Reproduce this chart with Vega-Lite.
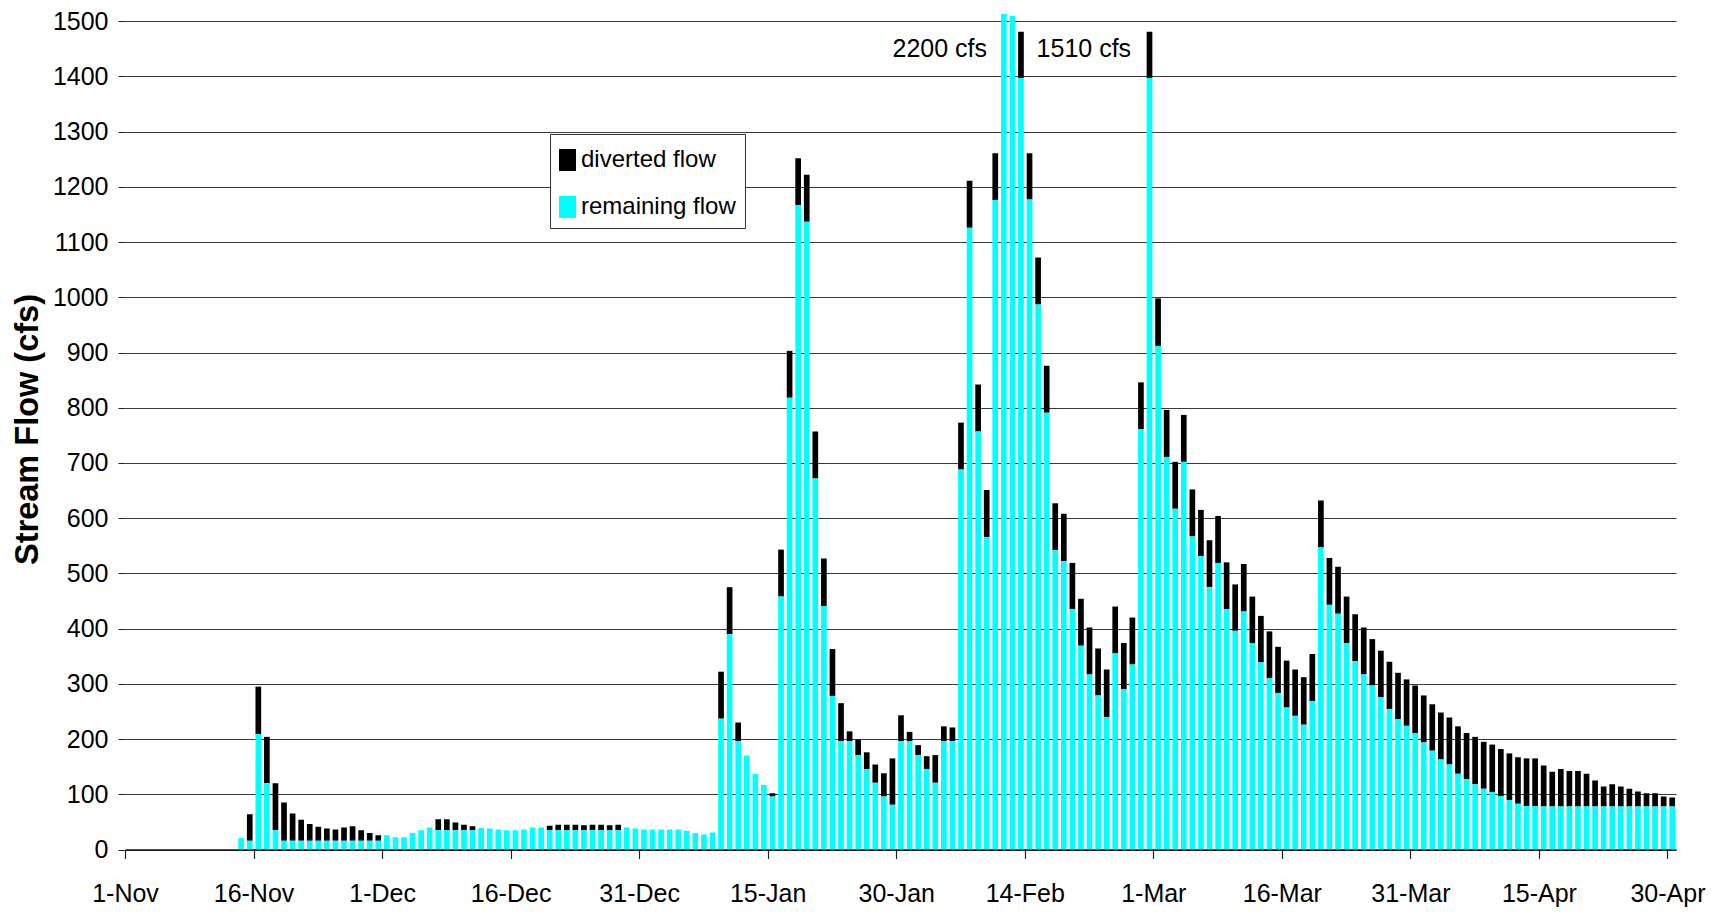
{
  "$schema": "https://vega.github.io/schema/vega-lite/v6.json",
  "width": 1551,
  "height": 835.5,
  "autosize": {"type": "none"},
  "padding": {"left": 125, "top": 14, "right": 57, "bottom": 67.5},
  "background": "white",
  "config": {
    "view": {"stroke": null},
    "font": "Liberation Sans",
    "axis": {"labelFont": "Liberation Sans", "labelColor": "#000", "tickColor": "#222", "titleColor": "#000"}
  },
  "datasets": {
    "flows": [
      {"date": "2002-11-14", "remaining": 21, "diverted": 0},
      {"date": "2002-11-15", "remaining": 16, "diverted": 48},
      {"date": "2002-11-16", "remaining": 209, "diverted": 86},
      {"date": "2002-11-17", "remaining": 120, "diverted": 84},
      {"date": "2002-11-18", "remaining": 35, "diverted": 85},
      {"date": "2002-11-19", "remaining": 16, "diverted": 69},
      {"date": "2002-11-20", "remaining": 16, "diverted": 49},
      {"date": "2002-11-21", "remaining": 16, "diverted": 38},
      {"date": "2002-11-22", "remaining": 16, "diverted": 30},
      {"date": "2002-11-23", "remaining": 16, "diverted": 25},
      {"date": "2002-11-24", "remaining": 16, "diverted": 22},
      {"date": "2002-11-25", "remaining": 16, "diverted": 20},
      {"date": "2002-11-26", "remaining": 16, "diverted": 24},
      {"date": "2002-11-27", "remaining": 16, "diverted": 26},
      {"date": "2002-11-28", "remaining": 16, "diverted": 19},
      {"date": "2002-11-29", "remaining": 16, "diverted": 14},
      {"date": "2002-11-30", "remaining": 16, "diverted": 10},
      {"date": "2002-12-01", "remaining": 26, "diverted": 0},
      {"date": "2002-12-02", "remaining": 22, "diverted": 0},
      {"date": "2002-12-03", "remaining": 22, "diverted": 0},
      {"date": "2002-12-04", "remaining": 30, "diverted": 0},
      {"date": "2002-12-05", "remaining": 35, "diverted": 0},
      {"date": "2002-12-06", "remaining": 40, "diverted": 0},
      {"date": "2002-12-07", "remaining": 35, "diverted": 20},
      {"date": "2002-12-08", "remaining": 35, "diverted": 20},
      {"date": "2002-12-09", "remaining": 35, "diverted": 14},
      {"date": "2002-12-10", "remaining": 35, "diverted": 10},
      {"date": "2002-12-11", "remaining": 35, "diverted": 7},
      {"date": "2002-12-12", "remaining": 39, "diverted": 0},
      {"date": "2002-12-13", "remaining": 38, "diverted": 0},
      {"date": "2002-12-14", "remaining": 36, "diverted": 0},
      {"date": "2002-12-15", "remaining": 35, "diverted": 0},
      {"date": "2002-12-16", "remaining": 35, "diverted": 0},
      {"date": "2002-12-17", "remaining": 36, "diverted": 0},
      {"date": "2002-12-18", "remaining": 40, "diverted": 0},
      {"date": "2002-12-19", "remaining": 40, "diverted": 0},
      {"date": "2002-12-20", "remaining": 35, "diverted": 8},
      {"date": "2002-12-21", "remaining": 35, "diverted": 10},
      {"date": "2002-12-22", "remaining": 35, "diverted": 10},
      {"date": "2002-12-23", "remaining": 35, "diverted": 10},
      {"date": "2002-12-24", "remaining": 35, "diverted": 9},
      {"date": "2002-12-25", "remaining": 35, "diverted": 10},
      {"date": "2002-12-26", "remaining": 35, "diverted": 10},
      {"date": "2002-12-27", "remaining": 35, "diverted": 9},
      {"date": "2002-12-28", "remaining": 35, "diverted": 10},
      {"date": "2002-12-29", "remaining": 40, "diverted": 0},
      {"date": "2002-12-30", "remaining": 38, "diverted": 0},
      {"date": "2002-12-31", "remaining": 36, "diverted": 0},
      {"date": "2003-01-01", "remaining": 36, "diverted": 0},
      {"date": "2003-01-02", "remaining": 36, "diverted": 0},
      {"date": "2003-01-03", "remaining": 36, "diverted": 0},
      {"date": "2003-01-04", "remaining": 36, "diverted": 0},
      {"date": "2003-01-05", "remaining": 34, "diverted": 0},
      {"date": "2003-01-06", "remaining": 30, "diverted": 0},
      {"date": "2003-01-07", "remaining": 27, "diverted": 0},
      {"date": "2003-01-08", "remaining": 31, "diverted": 0},
      {"date": "2003-01-09", "remaining": 237, "diverted": 85},
      {"date": "2003-01-10", "remaining": 390, "diverted": 85},
      {"date": "2003-01-11", "remaining": 196, "diverted": 34},
      {"date": "2003-01-12", "remaining": 170, "diverted": 0},
      {"date": "2003-01-13", "remaining": 137, "diverted": 0},
      {"date": "2003-01-14", "remaining": 117, "diverted": 0},
      {"date": "2003-01-15", "remaining": 96, "diverted": 6},
      {"date": "2003-01-16", "remaining": 458, "diverted": 85},
      {"date": "2003-01-17", "remaining": 818, "diverted": 85},
      {"date": "2003-01-18", "remaining": 1167, "diverted": 85},
      {"date": "2003-01-19", "remaining": 1137, "diverted": 85},
      {"date": "2003-01-20", "remaining": 672, "diverted": 85},
      {"date": "2003-01-21", "remaining": 441, "diverted": 86},
      {"date": "2003-01-22", "remaining": 278, "diverted": 85},
      {"date": "2003-01-23", "remaining": 196, "diverted": 69},
      {"date": "2003-01-24", "remaining": 196, "diverted": 18},
      {"date": "2003-01-25", "remaining": 171, "diverted": 28},
      {"date": "2003-01-26", "remaining": 146, "diverted": 30},
      {"date": "2003-01-27", "remaining": 121, "diverted": 33},
      {"date": "2003-01-28", "remaining": 96, "diverted": 42},
      {"date": "2003-01-29", "remaining": 81, "diverted": 84},
      {"date": "2003-01-30", "remaining": 196, "diverted": 47},
      {"date": "2003-01-31", "remaining": 196, "diverted": 17},
      {"date": "2003-02-01", "remaining": 171, "diverted": 18},
      {"date": "2003-02-02", "remaining": 146, "diverted": 23},
      {"date": "2003-02-03", "remaining": 121, "diverted": 50},
      {"date": "2003-02-04", "remaining": 196, "diverted": 27},
      {"date": "2003-02-05", "remaining": 196, "diverted": 25},
      {"date": "2003-02-06", "remaining": 688, "diverted": 85},
      {"date": "2003-02-07", "remaining": 1126, "diverted": 85},
      {"date": "2003-02-08", "remaining": 757, "diverted": 85},
      {"date": "2003-02-09", "remaining": 566, "diverted": 85},
      {"date": "2003-02-10", "remaining": 1176, "diverted": 85},
      {"date": "2003-02-11", "remaining": 2115, "diverted": 85},
      {"date": "2003-02-12", "remaining": 1510, "diverted": 0},
      {"date": "2003-02-13", "remaining": 1397, "diverted": 84},
      {"date": "2003-02-14", "remaining": 1177, "diverted": 84},
      {"date": "2003-02-15", "remaining": 987, "diverted": 85},
      {"date": "2003-02-16", "remaining": 791, "diverted": 85},
      {"date": "2003-02-17", "remaining": 542, "diverted": 85},
      {"date": "2003-02-18", "remaining": 522, "diverted": 86},
      {"date": "2003-02-19", "remaining": 435, "diverted": 84},
      {"date": "2003-02-20", "remaining": 369, "diverted": 85},
      {"date": "2003-02-21", "remaining": 317, "diverted": 85},
      {"date": "2003-02-22", "remaining": 279, "diverted": 85},
      {"date": "2003-02-23", "remaining": 240, "diverted": 86},
      {"date": "2003-02-24", "remaining": 355, "diverted": 85},
      {"date": "2003-02-25", "remaining": 290, "diverted": 84},
      {"date": "2003-02-26", "remaining": 335, "diverted": 85},
      {"date": "2003-02-27", "remaining": 761, "diverted": 85},
      {"date": "2003-02-28", "remaining": 1397, "diverted": 84},
      {"date": "2003-03-01", "remaining": 912, "diverted": 86},
      {"date": "2003-03-02", "remaining": 711, "diverted": 85},
      {"date": "2003-03-03", "remaining": 617, "diverted": 85},
      {"date": "2003-03-04", "remaining": 702, "diverted": 85},
      {"date": "2003-03-05", "remaining": 567, "diverted": 85},
      {"date": "2003-03-06", "remaining": 531, "diverted": 84},
      {"date": "2003-03-07", "remaining": 475, "diverted": 85},
      {"date": "2003-03-08", "remaining": 519, "diverted": 85},
      {"date": "2003-03-09", "remaining": 435, "diverted": 85},
      {"date": "2003-03-10", "remaining": 396, "diverted": 84},
      {"date": "2003-03-11", "remaining": 431, "diverted": 86},
      {"date": "2003-03-12", "remaining": 374, "diverted": 84},
      {"date": "2003-03-13", "remaining": 339, "diverted": 84},
      {"date": "2003-03-14", "remaining": 310, "diverted": 85},
      {"date": "2003-03-15", "remaining": 283, "diverted": 84},
      {"date": "2003-03-16", "remaining": 257, "diverted": 85},
      {"date": "2003-03-17", "remaining": 242, "diverted": 84},
      {"date": "2003-03-18", "remaining": 226, "diverted": 86},
      {"date": "2003-03-19", "remaining": 269, "diverted": 85},
      {"date": "2003-03-20", "remaining": 547, "diverted": 85},
      {"date": "2003-03-21", "remaining": 443, "diverted": 85},
      {"date": "2003-03-22", "remaining": 427, "diverted": 85},
      {"date": "2003-03-23", "remaining": 374, "diverted": 84},
      {"date": "2003-03-24", "remaining": 341, "diverted": 85},
      {"date": "2003-03-25", "remaining": 317, "diverted": 85},
      {"date": "2003-03-26", "remaining": 297, "diverted": 84},
      {"date": "2003-03-27", "remaining": 276, "diverted": 84},
      {"date": "2003-03-28", "remaining": 254, "diverted": 86},
      {"date": "2003-03-29", "remaining": 236, "diverted": 84},
      {"date": "2003-03-30", "remaining": 224, "diverted": 84},
      {"date": "2003-03-31", "remaining": 211, "diverted": 86},
      {"date": "2003-04-01", "remaining": 194, "diverted": 85},
      {"date": "2003-04-02", "remaining": 179, "diverted": 84},
      {"date": "2003-04-03", "remaining": 163, "diverted": 85},
      {"date": "2003-04-04", "remaining": 154, "diverted": 85},
      {"date": "2003-04-05", "remaining": 137, "diverted": 86},
      {"date": "2003-04-06", "remaining": 127, "diverted": 84},
      {"date": "2003-04-07", "remaining": 118, "diverted": 86},
      {"date": "2003-04-08", "remaining": 110, "diverted": 85},
      {"date": "2003-04-09", "remaining": 104, "diverted": 86},
      {"date": "2003-04-10", "remaining": 97, "diverted": 85},
      {"date": "2003-04-11", "remaining": 89, "diverted": 85},
      {"date": "2003-04-12", "remaining": 83, "diverted": 84},
      {"date": "2003-04-13", "remaining": 79, "diverted": 86},
      {"date": "2003-04-14", "remaining": 79, "diverted": 86},
      {"date": "2003-04-15", "remaining": 78, "diverted": 74},
      {"date": "2003-04-16", "remaining": 78, "diverted": 63},
      {"date": "2003-04-17", "remaining": 78, "diverted": 68},
      {"date": "2003-04-18", "remaining": 78, "diverted": 64},
      {"date": "2003-04-19", "remaining": 78, "diverted": 64},
      {"date": "2003-04-20", "remaining": 78, "diverted": 59},
      {"date": "2003-04-21", "remaining": 78, "diverted": 47},
      {"date": "2003-04-22", "remaining": 78, "diverted": 36},
      {"date": "2003-04-23", "remaining": 78, "diverted": 40},
      {"date": "2003-04-24", "remaining": 78, "diverted": 36},
      {"date": "2003-04-25", "remaining": 78, "diverted": 32},
      {"date": "2003-04-26", "remaining": 78, "diverted": 27},
      {"date": "2003-04-27", "remaining": 78, "diverted": 24},
      {"date": "2003-04-28", "remaining": 78, "diverted": 24},
      {"date": "2003-04-29", "remaining": 78, "diverted": 18},
      {"date": "2003-04-30", "remaining": 78, "diverted": 16}
    ]
  },
  "layer": [
    {
      "data": {"name": "flows"},
      "transform": [{"fold": ["diverted", "remaining"], "as": ["series", "cfs"]}],
      "mark": {"type": "bar", "width": {"band": 0.78}, "clip": true},
      "encoding": {
        "x": {
          "field": "date",
          "type": "temporal",
          "timeUnit": "utcyearmonthdate",
          "scale": {
            "type": "utc",
            "domain": [
              {"year": 2002, "month": 11, "date": 1, "utc": true},
              {"year": 2003, "month": 5, "date": 1, "utc": true}
            ],
            "nice": false
          },
          "axis": {
            "title": null,
            "values": [
              {"year": 2002, "month": 11, "date": 1, "utc": true},
              {"year": 2002, "month": 11, "date": 16, "utc": true},
              {"year": 2002, "month": 12, "date": 1, "utc": true},
              {"year": 2002, "month": 12, "date": 16, "utc": true},
              {"year": 2002, "month": 12, "date": 31, "utc": true},
              {"year": 2003, "month": 1, "date": 15, "utc": true},
              {"year": 2003, "month": 1, "date": 30, "utc": true},
              {"year": 2003, "month": 2, "date": 14, "utc": true},
              {"year": 2003, "month": 3, "date": 1, "utc": true},
              {"year": 2003, "month": 3, "date": 16, "utc": true},
              {"year": 2003, "month": 3, "date": 31, "utc": true},
              {"year": 2003, "month": 4, "date": 15, "utc": true},
              {"year": 2003, "month": 4, "date": 30, "utc": true}
            ],
            "format": "%-d-%b",
            "labelFontSize": 25,
            "labelPadding": 23,
            "labelOverlap": false,
            "labelFlush": false,
            "tickSize": 9,
            "tickWidth": 1.2,
            "domainColor": "#111",
            "domainWidth": 1.5,
            "grid": false
          }
        },
        "y": {
          "field": "cfs",
          "type": "quantitative",
          "stack": "zero",
          "scale": {"domain": [0, 1513], "nice": false},
          "axis": {
            "title": "Stream Flow (cfs)",
            "titleFontSize": 32.5,
            "titleFontWeight": "bold",
            "titleFont": "Liberation Sans",
            "titleAngle": -90,
            "titleAlign": "center",
            "titleBaseline": "middle",
            "titleX": -98,
            "titleY": 415,
            "values": [0, 100, 200, 300, 400, 500, 600, 700, 800, 900, 1000, 1100, 1200, 1300, 1400, 1500],
            "format": "d",
            "labelFontSize": 25,
            "labelPadding": 10,
            "tickSize": 7,
            "domain": false,
            "grid": true,
            "gridColor": "#3a3a3a",
            "gridWidth": 1
          }
        },
        "color": {
          "field": "series",
          "type": "nominal",
          "scale": {"domain": ["diverted", "remaining"], "range": ["#000000", "#00ffff"]},
          "legend": {
            "title": null,
            "orient": "none",
            "legendX": 425,
            "legendY": 120,
            "direction": "vertical",
            "fillColor": "white",
            "strokeColor": "#333",
            "padding": 9,
            "labelExpr": "datum.label + ' flow'",
            "labelFont": "Liberation Sans",
            "labelFontSize": 24,
            "labelColor": "#000",
            "labelOffset": -12,
            "rowPadding": 18,
            "symbolType": "M-1,-0.647H0V0.647H-1Z",
            "symbolSize": 1156,
            "symbolStrokeWidth": 0,
            "symbolOpacity": 1
          }
        },
        "order": {"field": "series", "sort": "descending"}
      }
    },
    {
      "mark": {"type": "rule", "color": "#5a5a5a", "strokeWidth": 2},
      "encoding": {
        "x": {"datum": {"year": 2002, "month": 11, "date": 1, "utc": true}, "type": "temporal"},
        "y": {"datum": 0},
        "y2": {"datum": 1500}
      }
    },
    {
      "mark": {"type": "rule", "color": "#808080", "strokeWidth": 1.5},
      "encoding": {
        "x": {"datum": {"year": 2003, "month": 5, "date": 1, "utc": true}, "type": "temporal"},
        "y": {"datum": 0},
        "y2": {"datum": 1500}
      }
    },
    {
      "data": {"values": [{"date": "2003-02-11", "note": "2200 cfs"}]},
      "mark": {"type": "text", "align": "right", "baseline": "middle", "dx": -12, "fontSize": 25, "font": "Liberation Sans", "color": "#000"},
      "encoding": {
        "x": {"field": "date", "type": "temporal"},
        "y": {"datum": 1450},
        "text": {"field": "note"}
      }
    },
    {
      "data": {"values": [{"date": "2003-02-12", "note": "1510 cfs"}]},
      "mark": {"type": "text", "align": "left", "baseline": "middle", "dx": 29, "fontSize": 25, "font": "Liberation Sans", "color": "#000"},
      "encoding": {
        "x": {"field": "date", "type": "temporal"},
        "y": {"datum": 1450},
        "text": {"field": "note"}
      }
    }
  ]
}
